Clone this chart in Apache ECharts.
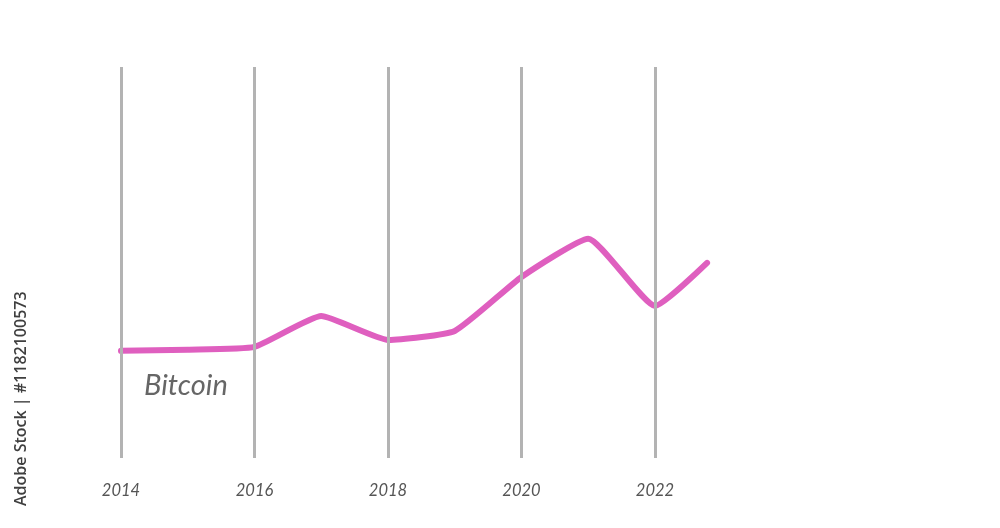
<!DOCTYPE html>
<html>
<head>
<meta charset="utf-8">
<script src="https://cdn.jsdelivr.net/npm/echarts@6/dist/echarts.min.js"></script>
<style>html,body{margin:0;padding:0;background:#fff}#c{width:1000px;height:528px}</style>
</head>
<body>
<div id="c"></div>
<script>
// Data (index values)
const years = [2014, 2015, 2016, 2017, 2018, 2019, 2020, 2021, 2022, 2022.78];
const bitcoin = [27.4, 27.7, 28.4, 36.3, 30.2, 32.5, 46.3, 56.1, 38.9, 49.9];
const gridYears = [2014, 2016, 2018, 2020, 2022];
const seriesName = 'Bitcoin';

const chart = echarts.init(document.getElementById('c'));
chart.setOption({
  backgroundColor: '#ffffff',
  animation: false,
  grid: { left: 121, right: 78, top: 67, bottom: 70 },
  xAxis: {
    type: 'value', min: 2014, max: 2026, interval: 2,
    axisLine: { show: false }, axisTick: { show: false }, splitLine: { show: false },
    axisLabel: {
      margin: 24, color: '#555', fontSize: 16.5, fontStyle: 'italic', fontFamily: 'Lato',
      formatter: v => (gridYears.indexOf(v) >= 0 ? String(v) : '')
    }
  },
  yAxis: {
    type: 'value', min: 0, max: 100, show: false, splitLine: { show: false }
  },
  graphic: [
    { type: 'text', left: 144, top: 371, style: { text: seriesName, fill: '#666', font: 'italic 29px Lato' } },
    { type: 'text', x: 13, y: 506, rotation: Math.PI / 2,
      style: { text: 'Adobe Stock | #1182100573', fill: '#3f3f3f', font: '600 16px "Open Sans"' } }
  ],
  series: [{
    type: 'line', name: seriesName,
    data: years.map((y, i) => [y, bitcoin[i]]),
    showSymbol: false, smooth: 0.15,
    lineStyle: { color: '#df5fbf', width: 6, cap: 'round', join: 'round' },
    z: 3,
    markLine: {
      silent: true, symbol: 'none', label: { show: false },
      lineStyle: { color: '#b3b3b3', width: 3, type: 'solid' },
      data: gridYears.map(y => ({ xAxis: y }))
    }
  }]
});
</script>
</body>
</html>
